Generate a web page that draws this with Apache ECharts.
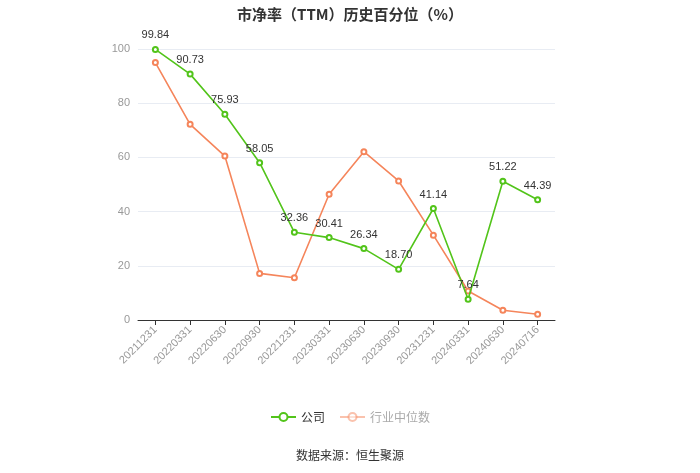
<!DOCTYPE html>
<html><head><meta charset="utf-8">
<script src="https://cdn.jsdelivr.net/npm/echarts@6/dist/echarts.min.js"></script>
<style>html,body{margin:0;padding:0;background:#fff}#c{width:700px;height:473px}</style>
</head><body><div id="c"></div>
<script>
var categories = ['20211231','20220331','20220630','20220930','20221231','20230331','20230630','20230930','20231231','20240331','20240630','20240716'];
var companyValues = [99.84, 90.73, 75.93, 58.05, 32.36, 30.41, 26.34, 18.70, 41.14, 7.64, 51.22, 44.39];
var industryValues = [95.0, 72.2, 60.5, 17.2, 15.6, 46.4, 62.1, 51.3, 31.3, 10.7, 3.6, 2.1];
var yTicks = [0, 20, 40, 60, 80, 100];

var chart = echarts.init(document.getElementById('c'), null, {renderer:'canvas'});
chart.setOption({
  backgroundColor: '#fff',
  title: {
    text: '市净率（TTM）历史百分位（%）',
    left: 'center', top: 2,
    textStyle: {fontSize: 15, fontWeight: 'bold', color: '#333', fontFamily: 'Noto Sans CJK SC'}
  },
  graphic: [{
    type: 'text', left: 'center', top: 449,
    style: {text: '数据来源：恒生聚源', fontSize: 12, fill: '#333', fontFamily: 'Noto Sans CJK SC'}
  }],
  legend: {
    bottom: 45, left: 'center', itemGap: 14, itemWidth: 25, itemHeight: 10,
    textStyle: {fontSize: 12, color: '#333', fontFamily: 'Noto Sans CJK SC'},
    data: [{name: '公司'}, {name: '行业中位数', textStyle: {color: '#aaa'}, itemStyle: {opacity: 0.5}, lineStyle: {opacity: 0.5}}]
  },
  grid: {left: 138, right: 145, top: 49, bottom: 153},
  xAxis: {
    type: 'category', data: categories, boundaryGap: true,
    axisLine: {lineStyle: {color: '#333'}},
    axisTick: {show: true, alignWithLabel: true, lineStyle: {color: '#333'}},
    axisLabel: {rotate: 45, color: '#999', fontSize: 11, interval: 0, margin: 8}
  },
  yAxis: {
    type: 'value', min: yTicks[0], max: yTicks[yTicks.length-1], interval: 20,
    axisLine: {show: false}, axisTick: {show: false},
    axisLabel: {color: '#999', fontSize: 11},
    splitLine: {lineStyle: {color: '#e8ecf3'}}
  },
  series: [{
    name: '公司', type: 'line', data: companyValues,
    symbol: 'emptyCircle', symbolSize: 5,
    itemStyle: {color: '#52c41a'}, lineStyle: {width: 1.6, color: '#52c41a'},
    label: {show: true, position: 'top', color: '#333', fontSize: 11,
      formatter: function(p){return p.value.toFixed(2);}},
    z: 3
  }, {
    name: '行业中位数', type: 'line', data: industryValues,
    symbol: 'emptyCircle', symbolSize: 5,
    itemStyle: {color: '#f5855b'}, lineStyle: {width: 1.6, color: '#f5855b'},
    z: 2
  }]
});
</script></body></html>
